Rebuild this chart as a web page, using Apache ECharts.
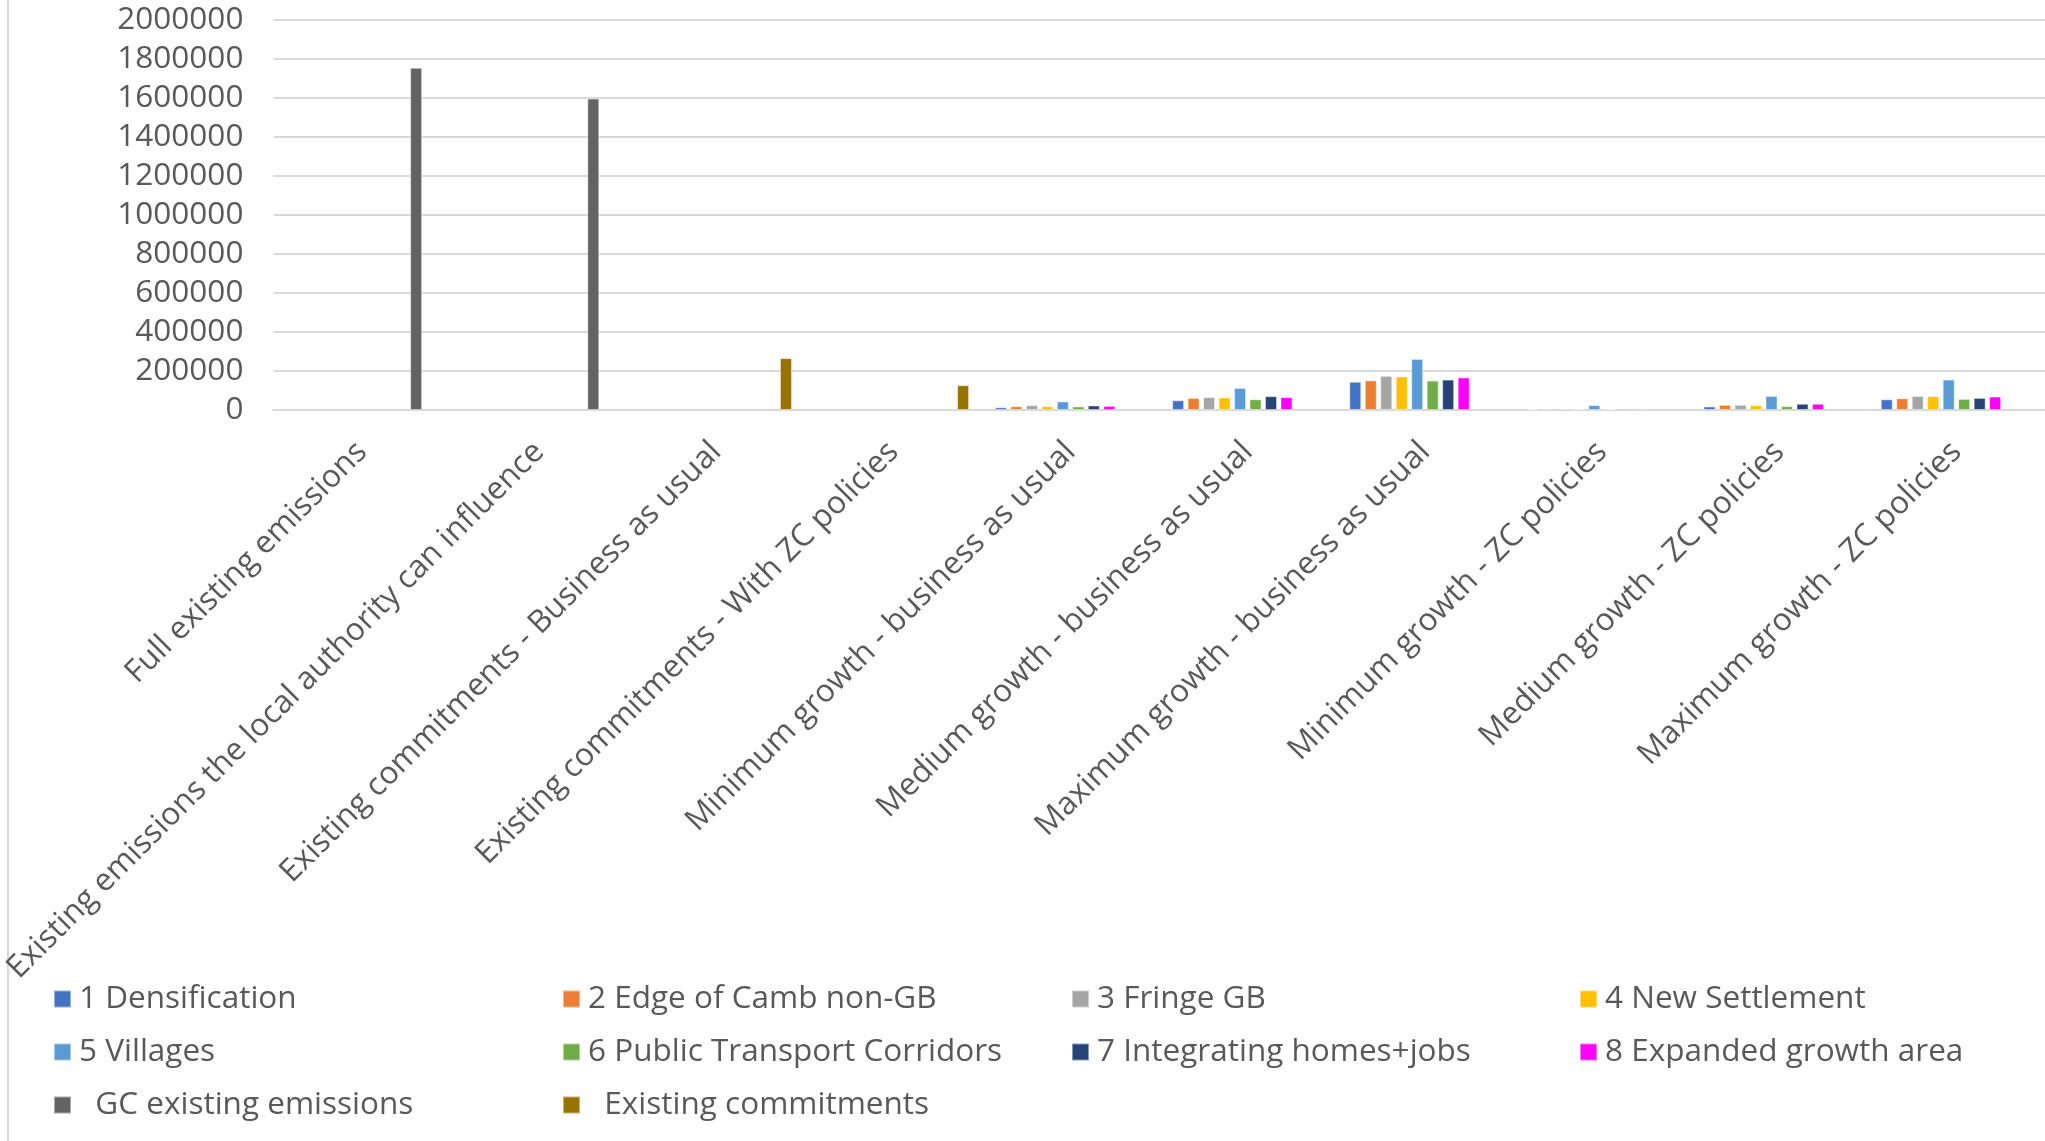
<!DOCTYPE html>
<html>
<head>
<meta charset="utf-8">
<script src="https://cdn.jsdelivr.net/npm/echarts@6/dist/echarts.min.js"></script>
<style>
  html, body { margin: 0; padding: 0; background: #ffffff; }
  #chart { width: 2045px; height: 1141px; }
</style>
</head>
<body>
<div id="chart"></div>
<script>
const categories = [
  'Full existing emissions',
  'Existing emissions the local authority can influence',
  'Existing commitments - Business as usual',
  'Existing commitments - With ZC policies',
  'Minimum growth - business as usual',
  'Medium growth - business as usual',
  'Maximum growth - business as usual',
  'Minimum growth - ZC policies',
  'Medium growth - ZC policies',
  'Maximum growth - ZC policies'
];
const yTicks = { min: 0, max: 2000000, interval: 200000 };

const s1Densification   = [null, null, null, null, 14000, 50000, 145000, 3500, 18000, 55000];
const s2EdgeOfCamb      = [null, null, null, null, 19500, 62000, 152000, 7000, 26500, 60000];
const s3FringeGB        = [null, null, null, null, 25000, 66000, 175000, 7000, 26500, 72000];
const s4NewSettlement   = [null, null, null, null, 19500, 64000, 172000, 6000, 25000, 71000];
const s5Villages        = [null, null, null, null, 44000, 113000, 262000, 25000, 72000, 156000];
const s6PublicTransport = [null, null, null, null, 18000, 55000, 151000, 5000, 19500, 57000];
const s7Integrating     = [null, null, null, null, 23000, 71000, 156000, 7000, 32000, 62000];
const s8Expanded        = [null, null, null, null, 21000, 66000, 167000, 7000, 32000, 69000];
const sGCExisting       = [1755000, 1597000, null, null, null, null, null, null, null, null];
const sExistingCommit   = [null, null, 266000, 127000, null, null, null, null, null, null];

const seriesNames = [
  '1 Densification', '2 Edge of Camb non-GB', '3 Fringe GB', '4 New Settlement',
  '5 Villages', '6 Public Transport Corridors', '7 Integrating homes+jobs', '8 Expanded growth area',
  '  GC existing emissions', '  Existing commitments'
];
const seriesData = [s1Densification, s2EdgeOfCamb, s3FringeGB, s4NewSettlement, s5Villages,
  s6PublicTransport, s7Integrating, s8Expanded, sGCExisting, sExistingCommit];
const colors = ['#4472C4', '#ED7D31', '#A5A5A5', '#FFC000', '#5B9BD5', '#70AD47', '#264478', '#FF00FF', '#636363', '#997300'];

const FONT = 'Open Sans';
const TXT = '#595959';
const FS = 31.5;

const series = seriesNames.map((n, i) => ({
  name: n,
  type: 'bar',
  data: seriesData[i],
  barWidth: 12,
  barGap: '29%',
  itemStyle: { color: colors[i], borderColor: 'rgba(255,255,255,0.45)', borderWidth: 1 },
  emphasis: { disabled: true }
}));

const legendCols = [
  { left: 53, names: [seriesNames[0], seriesNames[4], seriesNames[8]] },
  { left: 562, names: [seriesNames[1], seriesNames[5], seriesNames[9]] },
  { left: 1071, names: [seriesNames[2], seriesNames[6]] },
  { left: 1579, names: [seriesNames[3], seriesNames[7]] }
];

const chart = echarts.init(document.getElementById('chart'), null, { renderer: 'canvas' });
chart.setOption({
  animation: false,
  color: colors,
  textStyle: { fontFamily: FONT },
  grid: { left: 272, top: 20, width: 1777, height: 390, containLabel: false },
  legend: legendCols.map(c => ({
    orient: 'vertical',
    left: c.left,
    top: 983,
    padding: 0,
    itemWidth: 17,
    itemHeight: 17,
    itemGap: 21,
    icon: 'rect',
    selectedMode: false,
    data: c.names,
    textStyle: { fontFamily: FONT, fontSize: FS, color: TXT, padding: [0, 0, 0, 3], lineHeight: 31 }
  })),
  xAxis: {
    type: 'category',
    data: categories,
    axisLine: { lineStyle: { color: '#d9d9d9', width: 2 } },
    axisTick: { show: false },
    axisLabel: {
      rotate: 45,
      interval: 0,
      margin: 37,
      fontFamily: FONT,
      fontSize: FS,
      color: TXT
    }
  },
  yAxis: {
    type: 'value',
    min: yTicks.min,
    max: yTicks.max,
    interval: yTicks.interval,
    axisLine: { show: false },
    axisTick: { show: false },
    splitLine: { lineStyle: { color: '#d9d9d9', width: 2 } },
    axisLabel: { margin: 30, fontFamily: FONT, fontSize: FS, color: TXT, formatter: v => String(v) }
  },
  graphic: [{
    type: 'line',
    shape: { x1: 8, y1: 0, x2: 8, y2: 1141 },
    style: { stroke: '#d9d9d9', lineWidth: 2 },
    silent: true
  }],
  series: series
});
</script>
</body>
</html>
